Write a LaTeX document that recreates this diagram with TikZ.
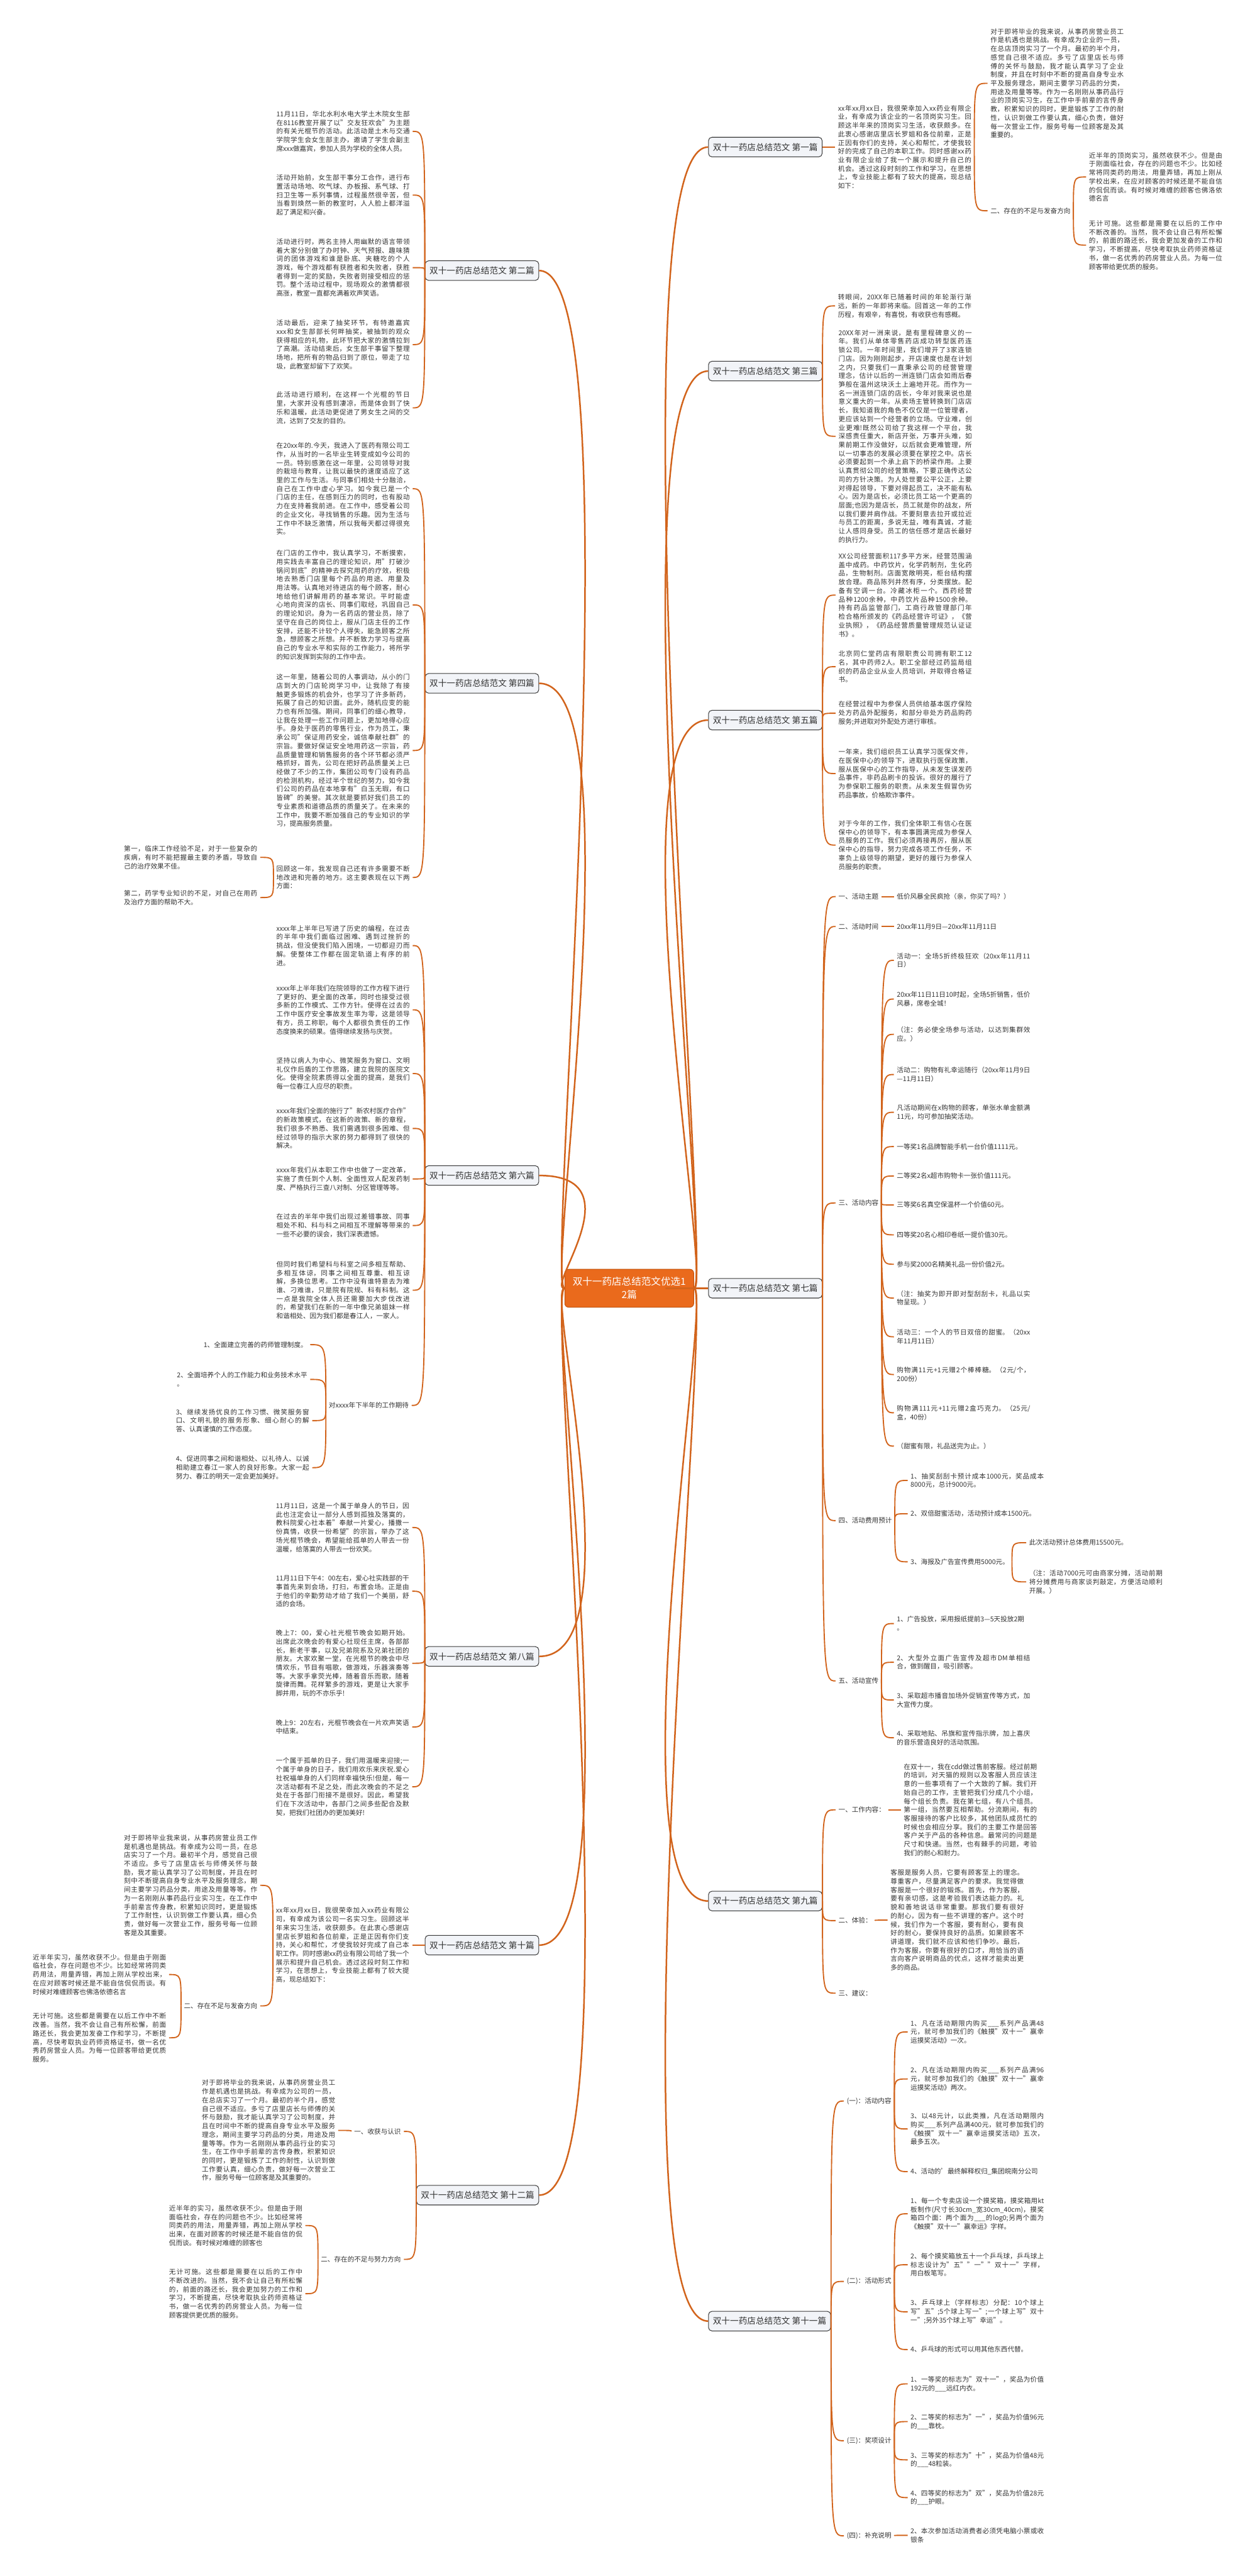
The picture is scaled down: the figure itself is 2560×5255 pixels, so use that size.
\documentclass[tikz,border=0pt]{standalone}
\usepackage{fontspec}
\setmainfont{Noto Sans CJK SC}
\XeTeXlinebreaklocale "zh"
\XeTeXlinebreakskip=0pt plus 1pt
\definecolor{rootColor}{HTML}{EA6A1C}
\definecolor{rootLineColor}{HTML}{C2530E}
\definecolor{branchColor}{HTML}{D2641C}
\definecolor{topicFillColor}{HTML}{F2F4F8}
\definecolor{topicLineColor}{HTML}{3A3A3A}
\definecolor{textColor}{HTML}{333333}
\tikzset{
  rootBox/.style={fill=rootColor, draw=rootLineColor, line width=1.3pt, rounded corners=8pt, text=white,
    font=\fontsize{20}{27}\selectfont, align=center, inner xsep=16pt, inner ysep=16pt},
  topicBox/.style={fill=topicFillColor, draw=topicLineColor, line width=1.3pt, rounded corners=7pt, text=textColor,
    font=\fontsize{17.5}{21}\selectfont, inner xsep=9pt, inner ysep=9pt, minimum height=40pt},
  leaf/.style={font=\fontsize{13.6}{17.6}\selectfont, text=textColor, inner sep=0pt, outer xsep=6pt,
    text width=272pt, align=justify},
  leafL/.style={leaf, anchor=east},
  leafR/.style={leaf, anchor=west},
  tagL/.style={font=\fontsize{13.6}{17.6}\selectfont, text=textColor, inner sep=0pt, outer xsep=6pt, align=left, anchor=east},
  tagR/.style={font=\fontsize{13.6}{17.6}\selectfont, text=textColor, inner sep=0pt, outer xsep=6pt, align=left, anchor=west},
  trunk/.style={draw=branchColor, line width=3.2pt},
  link/.style={draw=branchColor, line width=2.4pt},
  trunkL/.style={to path={.. controls +(-40,0) and +(200,0) .. (\tikztotarget)}},
  trunkR/.style={to path={.. controls +(40,0) and +(-200,0) .. (\tikztotarget)}},
  bracePath/.style={to path={.. controls (\tikztostart |- \tikztotarget) .. (\tikztotarget)}}
}
\begin{document}
\begin{tikzpicture}[x=1pt,y=-1pt]
\useasboundingbox (0,0) rectangle (2560,5255);
\fill[white] (0,0) rectangle (2560,5255);

\node[rootBox] (root) at (1284,2628) {双十一药店总结范文优选1\\2篇};

\node[topicBox, anchor=east] (b2) at (1100,552) {双十一药店总结范文 第二篇};
\node[topicBox, anchor=east] (b4) at (1100,1394) {双十一药店总结范文 第四篇};
\node[topicBox, anchor=east] (b6) at (1100,2398) {双十一药店总结范文 第六篇};
\node[topicBox, anchor=east] (b8) at (1100,3379) {双十一药店总结范文 第八篇};
\node[topicBox, anchor=east] (b10) at (1100,3968) {双十一药店总结范文 第十篇};
\node[topicBox, anchor=east] (b12) at (1100,4478) {双十一药店总结范文 第十二篇};
\node[topicBox, anchor=west] (a1) at (1445,300) {双十一药店总结范文 第一篇};
\node[topicBox, anchor=west] (a3) at (1445,757) {双十一药店总结范文 第三篇};
\node[topicBox, anchor=west] (a5) at (1445,1469) {双十一药店总结范文 第五篇};
\node[topicBox, anchor=west] (a7) at (1445,2628) {双十一药店总结范文 第七篇};
\node[topicBox, anchor=west] (a9) at (1445,3878) {双十一药店总结范文 第九篇};
\node[topicBox, anchor=west] (a11) at (1445,4735) {双十一药店总结范文 第十一篇};

\node[leafL] (b2a) at (842,268) {11月11日，华北水利水电大学土木院女生部在8116教室开展了以"交友狂欢会"为主题的有关光棍节的活动。此活动是土木与交通学院学生会女生部主办，邀请了学生会副主席xxx做嘉宾，参加人员为学校的全体人员。};
\node[leafL] (b2b) at (842,398) {活动开始前，女生部干事分工合作，进行布置活动场地、吹气球、办板报、系气球、打扫卫生等一系列事情，过程虽然很辛苦，但当看到焕然一新的教室时，人人脸上都洋溢起了满足和兴奋。};
\node[leafL] (b2c) at (842,546) {活动进行时，两名主持人用幽默的语言带领着大家分别做了办时钟、天气预报、趣味猜词的团体游戏和谁是卧底、夹糖吃的个人游戏，每个游戏都有获胜者和失败者，获胜者得到一定的奖励，失败者则接受相应的惩罚。整个活动过程中，现场观众的激情都很高涨，教室一直都充满着欢声笑语。};
\node[leafL] (b2d) at (842,703) {活动最后，迎来了抽奖环节，有特邀嘉宾xxx和女生部部长何畔抽奖，被抽到的观众获得相应的礼物，此环节把大家的激情拉到了高潮。活动结束后，女生部干事留下整理场地，把所有的物品归到了原位，带走了垃圾，此教室却留下了欢笑。};
\node[leafL] (b2e) at (842,832) {此活动进行顺利，在这样一个光棍的节日里，大家并没有感到凄凉，而是体会到了快乐和温暖，此活动更促进了男女生之间的交流，达到了交友的目的。};

\node[leafL] (b4a) at (842,997) {在20xx年的.今天，我进入了医药有限公司工作，从当时的一名毕业生转变成如今公司的一员。特别感激在这一年里，公司领导对我的栽培与教育，让我以最快的速度适应了这里的工作与生活。与同事们相处十分融洽，自己在工作中虚心学习。如今我已是一个门店的主任，在感到压力的同时，也有股动力在支持着我前进。在工作中，感受着公司的企业文化，寻找销售的乐趣。因为生活与工作中不缺乏激情，所以我每天都过得很充实。};
\node[leafL] (b4b) at (842,1234) {在门店的工作中，我认真学习，不断摸索，用实践去丰富自己的理论知识，用"打破沙锅问到底"的精神去探究用药的疗效，积极地去熟悉门店里每个药品的用途、用量及用法等。认真地对待进店的每个顾客，耐心地给他们讲解用药的基本常识。平时能虚心地向资深的店长、同事们取经，巩固自己的理论知识。身为一名药店的营业员，除了坚守在自己的岗位上，服从门店主任的工作安排，还能不计较个人得失，能急顾客之所急，想顾客之所想。并不断致力学习与提高自己的专业水平和实际的工作能力，将所学的知识发挥到实际的工作中去。};
\node[leafL] (b4c) at (842,1531) {这一年里，随着公司的人事调动，从小的门店到大的门店轮岗学习中，让我除了有接触更多锻炼的机会外，也学习了许多新药，拓展了自己的知识面。此外，随机应变的能力也有所加强。期间，同事们的细心教导，让我在处理一些工作问题上，更加地得心应手。身处于医药的零售行业，作为员工，秉承公司"保证用药安全，诚信奉献社群"的宗旨。要做好保证安全地用药这一宗旨，药品质量管理和销售服务的各个环节都必须严格抓好，首先，公司在把好药品质量关上已经做了不少的工作，集团公司专门设有药品的检测机构，经过半个世纪的努力，如今我们公司的药品在本地享有"白玉无瑕，有口皆碑"的美誉。其次就是要抓好我们员工的专业素质和道德品质的质量关了。在未来的工作中，我要不断加强自己的专业知识的学习，提高服务质量。};
\node[leafL] (b4d) at (842,1790) {回顾这一年，我发现自己还有许多需要不断地改进和完善的地方。这主要表现在以下两方面：};
\node[leafL] (b4d1) at (531,1749) {第一，临床工作经验不足，对于一些复杂的疾病，有时不能把握最主要的矛盾，导致自己的治疗效果不佳。};
\node[leafL] (b4d2) at (531,1831) {第二，药学专业知识的不足，对自己在用药及治疗方面的帮助不大。};

\node[leafL] (b6a) at (842,1929) {xxxx年上半年已写进了历史的编程，在过去的半年中我们面临过困难、遇到过挫折的挑战，但没使我们陷入困境，一切都迎刃而解。使整体工作都在固定轨道上有序的前进。};
\node[leafL] (b6b) at (842,2060) {xxxx年上半年我们在院领导的工作方程下进行了更好的、更全面的改革，同时也接受过很多新的工作模式、工作方针。使得在过去的工作中医疗安全事故发生率为零，这是领导有方，员工称职，每个人都很负责任的工作态度换来的硕果。值得继续发扬与庆贺。};
\node[leafL] (b6c) at (842,2190) {坚持以病人为中心、微笑服务为窗口、文明礼仪作后盾的工作思路，建立我院的医院文化。使得全院素质得以全面的提高，是我们每一位春江人应尽的职责。};
\node[leafL] (b6d) at (842,2302) {xxxx年我们全面的施行了"新农村医疗合作"的新政策模式，在这新的政策、新的章程，我们很多不熟悉、我们需遇到很多困难、但经过领导的指示大家的努力都得到了很快的解决。};
\node[leafL] (b6e) at (842,2405) {xxxx年我们从本职工作中也做了一定改革，实施了责任到个人制、全面性双人配发药制度、严格执行三查八对制、分区管理等等。};
\node[leafL] (b6f) at (842,2500) {在过去的半年中我们出现过差错事故、同事相处不和、科与科之间相互不理解等带来的一些不必要的误会，我们深表遗憾。};
\node[leafL] (b6g) at (842,2632) {但同时我们希望科与科室之间多相互帮助、多相互体谅，同事之间相互尊重、相互谅解，多换位思考。工作中没有谁特意去为难谁、刁难谁，只是院有院规、科有科制。这一点是我院全体人员还需要加大步伐改进的，希望我们在新的一年中像兄弟姐妹一样和谐相处、因为我们都是春江人，一家人。};
\node[tagL] (b6h) at (840,2867) {对xxxx年下半年的工作期待};
\node[tagL] (b6h1) at (633,2743) {1、全面建立完善的药师管理制度。};
\node[tagL] (b6h2) at (633,2814) {2、全面培养个人的工作能力和业务技术水平\\。};
\node[leafL] (b6h3) at (637,2898) {3、继续发扬优良的工作习惯、微笑服务窗口、文明礼貌的服务形象、细心耐心的解答、认真谨慎的工作态度。};
\node[leafL] (b6h4) at (637,2994) {4、促进同事之间和谐相处、以礼待人、以诚相助建立春江一家人的良好形象。大家一起努力、春江的明天一定会更加美好。};

\node[leafL] (b8a) at (841,3116) {11月11日，这是一个属于单身人的节日，因此也注定会让一部分人感到孤独及落寞的，教科院爱心社本着"奉献一片爱心，播撒一份真情，收获一份希望"的宗旨，举办了这场光棍节晚会，希望能给孤单的人带去一份温暖，给落寞的人带去一份欢笑。};
\node[leafL] (b8b) at (841,3246) {11月11日下午4：00左右，爱心社实践部的干事首先来到会场，打扫，布置会场。正是由于他们的辛勤劳动才给了我们一个美丽，舒适的会场。};
\node[leafL] (b8c) at (841,3393) {晚上7：00，爱心社光棍节晚会如期开始。出席此次晚会的有爱心社现任主席，各部部长，新老干事，以及兄弟院系及兄弟社团的朋友。大家欢聚一堂，在光棍节的晚会中尽情欢乐，节目有唱歌，做游戏，乐器演奏等等。大家手拿荧光棒，随着音乐而歌，随着旋律而舞。花样繁多的游戏，更是让大家手脚并用，玩的不亦乐乎!};
\node[leafL] (b8d) at (841,3523) {晚上9：20左右，光棍节晚会在一片欢声笑语中结束。};
\node[leafL] (b8e) at (841,3645) {一个属于孤单的日子，我们用温暖来迎接;一个属于单身的日子，我们用欢乐来庆祝.爱心社祝福单身的人们同样幸福快乐!但是，每一次活动都有不足之处，而此次晚会的不足之处在于各部门衔接不是很好。因此，希望我们在下次活动中，各部门之间多些配合及默契，把我们社团办的更加美好!};

\node[leafL] (b10a) at (841,3968) {xx年xx月xx日，我很荣幸加入xx药业有限公司，有幸成为该公司一名实习生。回顾这半年来实习生活，收获颇多。在此衷心感谢店里店长罗姐和各位前辈，正是正因有你们支持，关心和帮忙，才使我较好完成了自己本职工作。同时感谢xx药业有限公司给了我一个展示和提升自己机会。透过这段时刻工作和学习，在思想上，专业技能上都有了较大提高，现总结如下：};
\node[leafL] (b10a1) at (531,3846) {对于即将毕业我来说，从事药房营业员工作是机遇也是挑战。有幸成为公司一员，在总店实习了一个月。最初半个月，感觉自己很不适应。多亏了店里店长与师傅关怀与鼓励，我才能认真学习了公司制度，并且在时刻中不断提高自身专业水平及服务理念，期间主要学习药品分类，用途及用量等等。作为一名刚刚从事药品行业实习生，在工作中手前辈言传身教，积累知识同时，更是锻炼了工作耐性，认识到做工作要认真，细心负责，做好每一次营业工作，服务号每一位顾客是及其重要。};
\node[tagL] (b10a2) at (531,4092) {二、存在不足与发奋方向};
\node[leafL] (b10a2a) at (345,4028) {近半年实习，虽然收获不少。但是由于刚面临社会，存在问题也不少。比如经常将同类药用法，用量弄错，再加上刚从学校出来，在应对顾客时候还是不能自信侃侃而谈。有时候对难缠顾客也佛洛依德名言};
\node[leafL] (b10a2b) at (345,4157) {无计可施。这些都是需要在以后工作中不断改善。当然，我不会让自己有所松懈，前面路还长，我会更加发奋工作和学习，不断提高，尽快考取执业药师资格证书，做一名优秀药房营业人员。为每一位顾客带给更优质服务。};

\node[tagL] (b12a) at (824,4348) {一、收获与认识};
\node[leafL] (b12a1) at (690,4346) {对于即将毕业的我来说，从事药房营业员工作是机遇也是挑战。有幸成为公司的一员，在总店实习了一个月。最初的半个月，感觉自己很不适应。多亏了店里店长与师傅的关怀与鼓励，我才能认真学习了公司制度，并且在时间中不断的提高自身专业水平及服务理念，期间主要学习药品的分类，用途及用量等等。作为一名刚刚从事药品行业的实习生，在工作中手前辈的言传身教，积累知识的同时，更是锻炼了工作的耐性，认识到做工作要认真，细心负责，做好每一次营业工作，服务号每一位顾客是及其重要的。};
\node[tagL] (b12b) at (824,4609) {二、存在的不足与努力方向};
\node[leafL] (b12b1) at (623,4540) {近半年的实习，虽然收获不少。但是由于刚面临社会，存在的问题也不少。比如经常将同类药的用法，用量弄错，再加上刚从学校出来，在面对顾客的时候还是不能自信的侃侃而谈。有时候对难缠的顾客也};
\node[leafL] (b12b2) at (623,4679) {无计可施。这些都是需要在以后的工作中不断改进的。当然，我不会让自己有所松懈的，前面的路还长，我会更加努力的工作和学习，不断提高，尽快考取执业药师资格证书，做一名优秀的药房营业人员。为每一位顾客提供更优质的服务。};

\node[leafR] (a1a) at (1704,300) {xx年xx月xx日，我很荣幸加入xx药业有限企业，有幸成为该企业的一名顶岗实习生。回顾这半年来的顶岗实习生活，收获颇多。在此衷心感谢店里店长罗姐和各位前辈，正是正因有你们的支持，关心和帮忙，才使我较好的完成了自己的本职工作。同时感谢xx药业有限企业给了我一个展示和提升自己的机会。透过这段时刻的工作和学习，在思想上，专业技能上都有了较大的提高，现总结如下：};
\node[leafR] (a1a1) at (2015,170) {对于即将毕业的我来说，从事药房营业员工作是机遇也是挑战。有幸成为企业的一员，在总店顶岗实习了一个月。最初的半个月，感觉自己很不适应。多亏了店里店长与师傅的关怀与鼓励，我才能认真学习了企业制度，并且在时刻中不断的提高自身专业水平及服务理念，期间主要学习药品的分类，用途及用量等等。作为一名刚刚从事药品行业的顶岗实习生，在工作中手前辈的言传身教，积累知识的同时，更是锻炼了工作的耐性，认识到做工作要认真，细心负责，做好每一次营业工作，服务号每一位顾客是及其重要的。};
\node[tagR] (a1a2) at (2015,430) {二、存在的不足与发奋方向};
\node[leafR] (a1a2a) at (2216,361) {近半年的顶岗实习，虽然收获不少。但是由于刚面临社会，存在的问题也不少。比如经常将同类药的用法，用量弄错，再加上刚从学校出来，在应对顾客的时候还是不能自信的侃侃而谈。有时候对难缠的顾客也佛洛依德名言};
\node[leafR] (a1a2b) at (2216,500) {无计可施。这些都是需要在以后的工作中不断改善的。当然，我不会让自己有所松懈的，前面的路还长，我会更加发奋的工作和学习，不断提高，尽快考取执业药师资格证书，做一名优秀的药房营业人员。为每一位顾客带给更优质的服务。};

\node[leafR] (a3a) at (1704,624) {转眼间，20XX年已随着时间的年轮渐行渐远，新的一年即将来临。回首这一年的工作历程，有艰辛，有喜悦，有收获也有感概。};
\node[leafR] (a3b) at (1705,890) {20XX年对一洲来说，是有里程碑意义的一年。我们从单体零售药店成功转型医药连锁公司。一年时间里，我们增开了3家连锁门店。因为刚刚起步，开店速度也是在计划之内，只要我们一直秉承公司的经营管理理念，估计以后的一洲连锁门店会如雨后春笋般在温州这块沃土上遍地开花。而作为一名一洲连锁门店的店长，今年对我来说也是意义重大的一年。从卖场主管转换到门店店长，我知道我的角色不仅仅是一位管理者，更应该站到一个经营者的立场。守业难，创业更难!既然公司给了我这样一个平台，我深感责任重大，新店开张，万事开头难，如果前期工作没做好，以后就会更难管理，所以一切事态的发展必须要在掌控之中。店长必须要起到一个承上启下的桥梁作用。上要认真贯彻公司的经营策略，下要正确传达公司的方针决策。为人处世要公平公正，上要对得起领导，下要对得起员工，决不能有私心。因为是店长，必须比员工站一个更高的层面;也因为是店长，员工就是你的战友，所以我们要并肩作战。不要刻意去拉开或拉近与员工的距离，多说无益，唯有真诚，才能让人感同身受。员工的信任感才是店长最好的执行力。};

\node[leafR] (a5a) at (1705,1214) {XX公司经营面积117多平方米，经营范围涵盖中成药。中药饮片，化学药制剂，生化药品，生物制剂。店面宽敞明亮，柜台结构摆放合理。商品陈列井然有序，分类摆放。配备有空调一台。冷藏冰柜一个。西药经营品种1200余种，中药饮片品种1500余种。持有药品监管部门，工商行政管理部门年检合格所颁发的《药品经营许可证》，《营业执照》，《药品经营质量管理规范认证证书》。};
\node[leafR] (a5b) at (1705,1360) {北京同仁堂药店有限职责公司拥有职工12名，其中药师2人。职工全部经过药监局组织的药品企业从业人员培训，并取得合格证书。};
\node[leafR] (a5c) at (1705,1455) {在经营过程中为参保人员供给基本医疗保险处方药品外配服务，和部分非处方药品购药服务;并进取对外配处方进行审核。};
\node[leafR] (a5d) at (1705,1578) {一年来，我们组织员工认真学习医保文件，在医保中心的领导下，进取执行医保政策，服从医保中心的工作指导，从未发生误发药品事件，非药品刷卡的投诉。很好的履行了为参保职工服务的职责。从未发生假冒伪劣药品事故，价格欺诈事件。};
\node[leafR] (a5e) at (1705,1724) {对于今年的工作，我们全体职工有信心在医保中心的领导下，有本事圆满完成为参保人员服务的工作。我们必须再接再厉，服从医保中心的指导，努力完成各项工作任务，不辜负上级领导的期望，更好的履行为参保人员服务的职责。};

\node[tagR] (s1) at (1705,1829) {一、活动主题};
\node[tagR] (s1a) at (1824,1829) {低价风暴全民疯抢（亲，你买了吗？）};
\node[tagR] (s2) at (1705,1890) {二、活动时间};
\node[tagR] (s2a) at (1824,1890) {20xx年11月9日—20xx年11月11日};
\node[tagR] (s3) at (1705,2454) {三、活动内容};
\node[leafR] (c1) at (1824,1959) {活动一：全场5折终极狂欢（20xx年11月11日）};
\node[leafR] (c2) at (1824,2038) {20xx年11日11日10时起，全场5折销售，低价风暴，席卷全城！};
\node[leafR] (c3) at (1824,2110) {（注：务必使全场参与活动，以达到集群效应。）};
\node[leafR] (c4) at (1824,2192) {活动二：购物有礼幸运随行（20xx年11月9日—11月11日）};
\node[leafR] (c5) at (1824,2269) {凡活动期间在x购物的顾客，单张水单金额满11元，均可参加抽奖活动。};
\node[leafR] (c6) at (1824,2339) {一等奖1名品牌智能手机一台价值1111元。};
\node[leafR] (c7) at (1824,2399) {二等奖2名x超市购物卡一张价值111元。};
\node[leafR] (c8) at (1824,2458) {三等奖6名真空保温杯一个价值60元。};
\node[leafR] (c9) at (1824,2519) {四等奖20名心相印卷纸一提价值30元。};
\node[leafR] (c10) at (1824,2579) {参与奖2000名精美礼品一份价值2元。};
\node[leafR] (c11) at (1824,2648) {（注：抽奖为即开即对型刮刮卡，礼品以实物呈现。）};
\node[leafR] (c12) at (1824,2727) {活动三：一个人的节日双倍的甜蜜。（20xx年11月11日）};
\node[leafR] (c13) at (1824,2804) {购物满11元+1元赠2个棒棒糖。（2元/个，200份）};
\node[leafR] (c14) at (1824,2882) {购物满111元+11元赠2盒巧克力。（25元/盒，40份）};
\node[leafR] (c15) at (1824,2950) {（甜蜜有限，礼品送完为止。）};
\node[tagR] (s4) at (1705,3102) {四、活动费用预计};
\node[leafR] (d1) at (1852,3020) {1、抽奖刮刮卡预计成本1000元，奖品成本8000元，总计9000元。};
\node[tagR] (d2) at (1852,3088) {2、双倍甜蜜活动，活动预计成本1500元。};
\node[tagR] (d3) at (1852,3186) {3、海报及广告宣传费用5000元。};
\node[tagR] (d3a) at (2094,3147) {此次活动预计总体费用15500元。};
\node[leafR] (d3b) at (2094,3227) {（注：活动7000元可由商家分摊，活动前期将分摊费用与商家谈判敲定，方便活动顺利开展。）};
\node[tagR] (s5) at (1705,3429) {五、活动宣传};
\node[tagR] (e1) at (1824,3312) {1、广告投放，采用报纸提前3—5天投放2期\\。};
\node[leafR] (e2) at (1824,3391) {2、大型外立面广告宣传及超市DM单相结合，做到醒目，吸引顾客。};
\node[leafR] (e3) at (1824,3468) {3、采取超市播音加场外促销宣传等方式，加大宣传力度。};
\node[leafR] (e4) at (1824,3545) {4、采取地贴、吊旗和宣传指示牌，加上喜庆的音乐营造良好的活动氛围。};

\node[tagR] (f1) at (1705,3692) {一、工作内容：};
\node[leafR] (f1a) at (1838,3692) {在双十一，我在cdd做过售前客服。经过前期的培训，对天猫的规则以及客服人员应该注意的一些事项有了一个大致的了解。我们开始自己的工作，主管把我们分成几个小组，每个组长负责。我在第七组，有八个组员。第一组，当然要互相帮助。分流期间，有的客服接待的客户比较多，其他团队成员忙的时候也会相应分享。我们的主要工作是回答客户关于产品的各种信息。最常问的问题是尺寸和快递。当然，也有棘手的问题，考验我们的耐心和耐力。};
\node[tagR] (f2) at (1705,3918) {二、体验：};
\node[leafR] (f2a) at (1811,3917) {客服是服务人员，它要有顾客至上的理念。尊重客户，尽量满足客户的要求。我觉得做客服是一个很好的锻炼。首先，作为客服，要有亲切感，这是考验我们表达能力的。礼貌和善地说话非常重要。那我们要有很好的耐心，因为有一些不讲理的客户。这个时候，我们作为一个客服，要有耐心，要有良好的耐心，要保持良好的品质。如果顾客不讲道理，我们就不应该和他们争吵。最后，作为客服，你要有很好的口才，用恰当的语言向客户说明商品的优点，这样才能卖出更多的商品。};
\node[tagR] (f3) at (1705,4066) {三、建议：};

\node[tagR] (g1) at (1722,4286) {(一)：活动内容};
\node[leafR] (g1a) at (1852,4145) {1、凡在活动期限内购买\_\_\_系列产品满48元，就可参加我们的《触摸"双十一"赢幸运摸奖活动》一次。};
\node[leafR] (g1b) at (1852,4241) {2、凡在活动期限内购买\_\_\_系列产品满96元，就可参加我们的《触摸"双十一"赢幸运摸奖活动》两次。};
\node[leafR] (g1c) at (1852,4343) {3、以48元计，以此类推，凡在活动期限内购买\_\_\_系列产品满400元，就可参加我们的《触摸"双十一"赢幸运摸奖活动》五次，最多五次。};
\node[leafR] (g1d) at (1852,4430) {4、活动的'最终解释权归\_集团皖南分公司};
\node[tagR] (g2) at (1722,4654) {(二)：活动形式};
\node[leafR] (g2a) at (1852,4516) {1、每一个专卖店设一个摸奖箱，摸奖箱用kt板制作(尺寸长30cm\_宽30cm\_40cm)，摸奖箱四个面：两个面为\_\_\_的log0;另两个面为《触摸"双十一"赢幸运》字样。};
\node[leafR] (g2b) at (1852,4620) {2、每个摸奖箱放五十一个乒乓球，乒乓球上标志设计为"五""一""双十一"字样，用白板笔写。};
\node[leafR] (g2c) at (1852,4716) {3、乒乓球上（字样标志）分配：10个球上写"五";5个球上写一";一个球上写"双十一";另外35个球上写"幸运"。};
\node[leafR] (g2d) at (1852,4793) {4、乒乓球的形式可以用其他东西代替。};
\node[tagR] (g3) at (1722,4979) {(三)：奖项设计};
\node[leafR] (g3a) at (1852,4863) {1、一等奖的标志为"双十一"，奖品为价值192元的\_\_\_远红内衣。};
\node[leafR] (g3b) at (1852,4940) {2、二等奖的标志为"一"，奖品为价值96元的\_\_\_靠枕。};
\node[leafR] (g3c) at (1852,5018) {3、三等奖的标志为"十"，奖品为价值48元的\_\_\_48粒装。};
\node[leafR] (g3d) at (1852,5095) {4、四等奖的标志为"双"，奖品为价值28元的\_\_\_护眼。};
\node[tagR] (g4) at (1722,5173) {(四)：补充说明};
\node[leafR] (g4a) at (1852,5172) {2、本次参加活动消费者必须凭电脑小票或收银条};

\foreach \b in {b2,b4,b6,b8,b10,b12} \draw[trunk] (root.west) to[trunkL] (\b.east);
\foreach \b in {a1,a3,a5,a7,a9,a11} \draw[trunk] (root.east) to[trunkR] (\b.west);

\foreach \c in {b2a,b2b,b2c,b2d,b2e} \draw[link] (b2.west) to[bracePath] (\c.east);
\foreach \c in {b4a,b4b,b4c,b4d} \draw[link] (b4.west) to[bracePath] (\c.east);
\foreach \c in {b4d1,b4d2} \draw[link] (b4d.west) to[bracePath] (\c.east);
\foreach \c in {b6a,b6b,b6c,b6d,b6e,b6f,b6g,b6h} \draw[link] (b6.west) to[bracePath] (\c.east);
\foreach \c in {b6h1,b6h2,b6h3,b6h4} \draw[link] (b6h.west) to[bracePath] (\c.east);
\foreach \c in {b8a,b8b,b8c,b8d,b8e} \draw[link] (b8.west) to[bracePath] (\c.east);
\draw[link] (b10.west) to[bracePath] (b10a.east);
\foreach \c in {b10a1,b10a2} \draw[link] (b10a.west) to[bracePath] (\c.east);
\foreach \c in {b10a2a,b10a2b} \draw[link] (b10a2.west) to[bracePath] (\c.east);
\foreach \c in {b12a,b12b} \draw[link] (b12.west) to[bracePath] (\c.east);
\draw[link] (b12a.west) to[bracePath] (b12a1.east);
\foreach \c in {b12b1,b12b2} \draw[link] (b12b.west) to[bracePath] (\c.east);

\draw[link] (a1.east) to[bracePath] (a1a.west);
\foreach \c in {a1a1,a1a2} \draw[link] (a1a.east) to[bracePath] (\c.west);
\foreach \c in {a1a2a,a1a2b} \draw[link] (a1a2.east) to[bracePath] (\c.west);
\foreach \c in {a3a,a3b} \draw[link] (a3.east) to[bracePath] (\c.west);
\foreach \c in {a5a,a5b,a5c,a5d,a5e} \draw[link] (a5.east) to[bracePath] (\c.west);
\foreach \c in {s1,s2,s3,s4,s5} \draw[link] (a7.east) to[bracePath] (\c.west);
\draw[link] (s1.east) to[bracePath] (s1a.west);
\draw[link] (s2.east) to[bracePath] (s2a.west);
\foreach \c in {c1,c2,c3,c4,c5,c6,c7,c8,c9,c10,c11,c12,c13,c14,c15} \draw[link] (s3.east) to[bracePath] (\c.west);
\foreach \c in {d1,d2,d3} \draw[link] (s4.east) to[bracePath] (\c.west);
\foreach \c in {d3a,d3b} \draw[link] (d3.east) to[bracePath] (\c.west);
\foreach \c in {e1,e2,e3,e4} \draw[link] (s5.east) to[bracePath] (\c.west);
\foreach \c in {f1,f2,f3} \draw[link] (a9.east) to[bracePath] (\c.west);
\draw[link] (f1.east) to[bracePath] (f1a.west);
\draw[link] (f2.east) to[bracePath] (f2a.west);
\foreach \c in {g1,g2,g3,g4} \draw[link] (a11.east) to[bracePath] (\c.west);
\foreach \c in {g1a,g1b,g1c,g1d} \draw[link] (g1.east) to[bracePath] (\c.west);
\foreach \c in {g2a,g2b,g2c,g2d} \draw[link] (g2.east) to[bracePath] (\c.west);
\foreach \c in {g3a,g3b,g3c,g3d} \draw[link] (g3.east) to[bracePath] (\c.west);
\draw[link] (g4.east) to[bracePath] (g4a.west);
\end{tikzpicture}
\end{document}
